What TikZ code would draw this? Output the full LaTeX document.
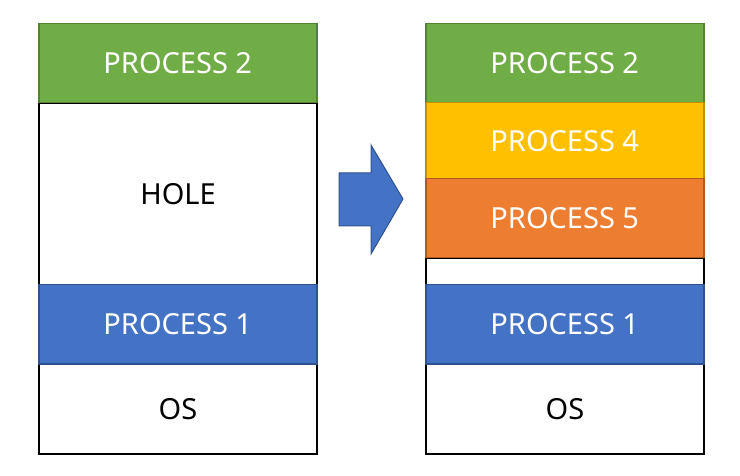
\documentclass[tikz,border=0pt]{standalone}
\usepackage{fontspec}
\setmainfont{Noto Sans}
\definecolor{pgreen}{HTML}{70AD47}
\definecolor{pgreenline}{HTML}{548235}
\definecolor{pyellow}{HTML}{FFC000}
\definecolor{pyellowline}{HTML}{BF9000}
\definecolor{porange}{HTML}{ED7D31}
\definecolor{porangeline}{HTML}{AE5A21}
\definecolor{pblue}{HTML}{4472C4}
\definecolor{pblueline}{HTML}{2F528F}
\begin{document}
\begin{tikzpicture}[x=1pt,y=-1pt,
    block/.style={draw,line width=1.5pt,anchor=north west,inner sep=0pt,
      minimum width=278pt,font=\fontsize{29}{34}\selectfont},
    free/.style={block,draw=black,line width=2pt,fill=white,text=black},
    used/.style={block,text=white}]
  \useasboundingbox (0,0) rectangle (740,476);
  % Before
  \node[free,minimum height=182pt] (hole) at (38,102) {HOLE};
  \node[free,minimum height=90pt] (osl) at (38,363) {OS};
  \node[used,fill=pgreen,draw=pgreenline,minimum height=79pt] (p2l) at (38,23) {PROCESS 2};
  \node[used,fill=pblue,draw=pblueline,minimum height=79pt] (p1l) at (38,284) {PROCESS 1};
  % After
  \node[free,minimum height=27pt] (gap) at (425,257) {};
  \node[free,minimum height=90pt] (osr) at (425,363) {OS};
  \node[used,fill=pgreen,draw=pgreenline,minimum height=79pt] (p2r) at (425,23) {PROCESS 2};
  \node[used,fill=pyellow,draw=pyellowline,minimum height=76pt] (p4) at (425,102) {PROCESS 4};
  \node[used,fill=porange,draw=porangeline,minimum height=79pt] (p5) at (425,178) {PROCESS 5};
  \node[used,fill=pblue,draw=pblueline,minimum height=79pt] (p1r) at (425,284) {PROCESS 1};
  % Arrow
  \draw[pblueline,fill=pblue,line width=1pt,line join=miter]
    (339,173) -- (371,173) -- (371,145) -- (403,199) -- (371,254)
    -- (371,226) -- (339,226) -- cycle;
\end{tikzpicture}
\end{document}
